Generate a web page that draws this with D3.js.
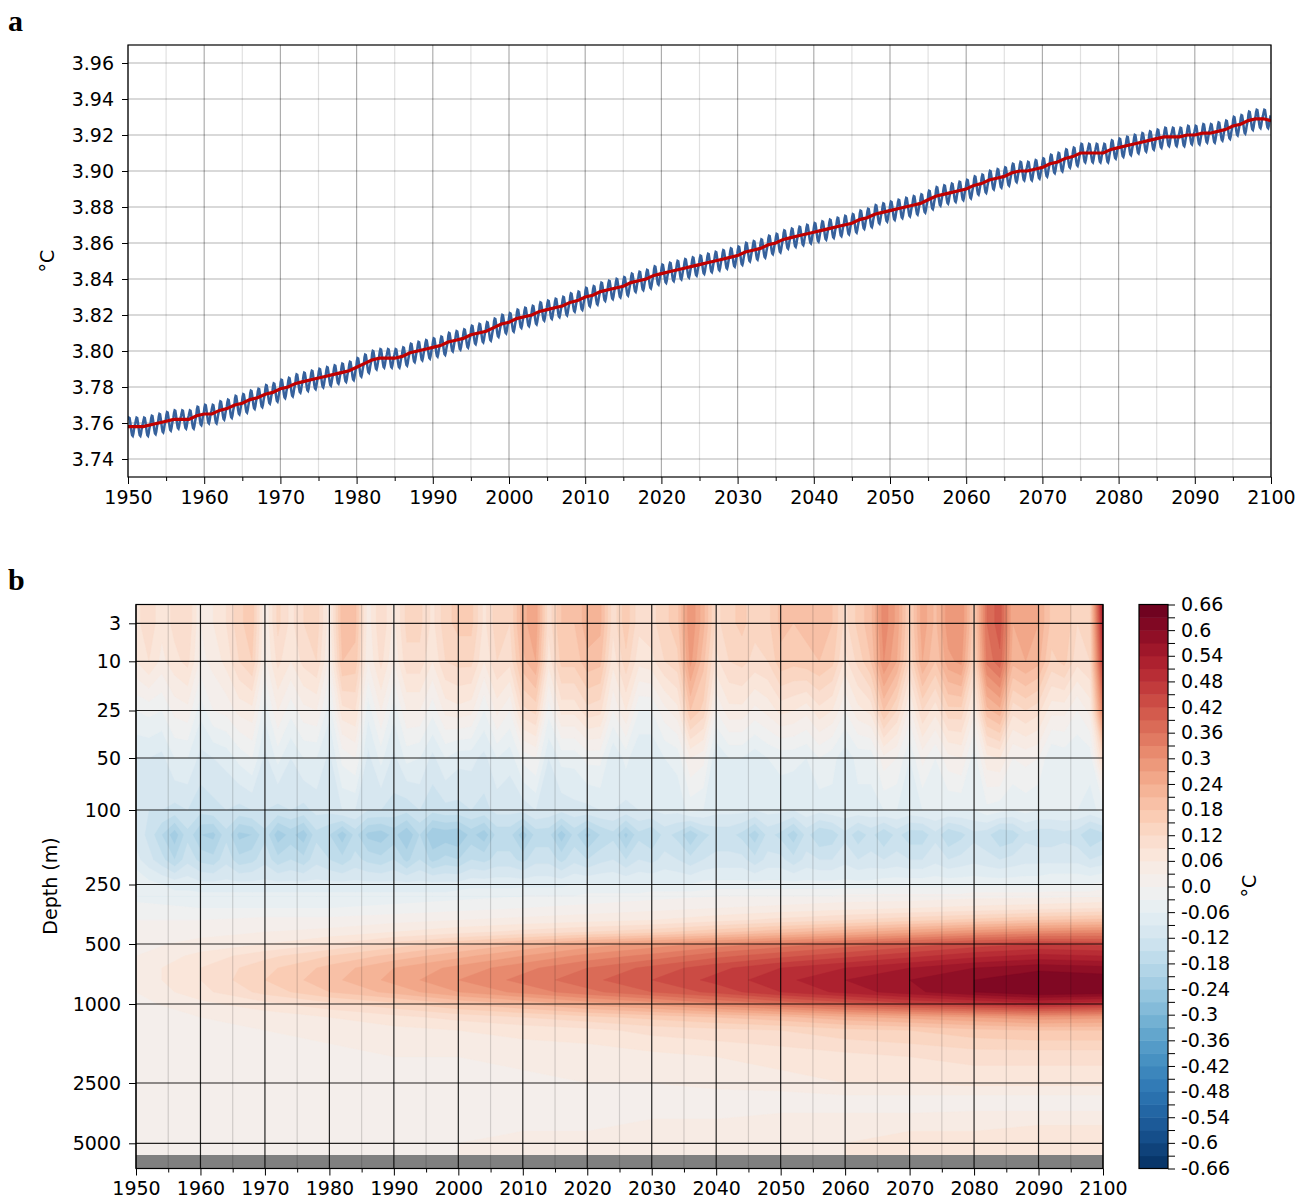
<!DOCTYPE html>
<html>
<head>
<meta charset="utf-8">
<script src="https://cdn.jsdelivr.net/npm/d3@7"></script>
<style>
  body { margin: 0; background: #fff; }
  svg text { font-family: "DejaVu Sans", sans-serif; }
</style>
</head>
<body>
<div id="chart"></div>
<script>
// ---------- panel a : mean temperature ----------
var years = d3.range(1950, 2101);
var annualMean = [
  3.758, 3.758, 3.758, 3.759, 3.760, 3.761, 3.762, 3.762, 3.762, 3.764,
  3.765, 3.765, 3.767, 3.768, 3.770, 3.771, 3.773, 3.774, 3.776, 3.777,
  3.779, 3.780, 3.782, 3.783, 3.784, 3.785, 3.786, 3.787, 3.788, 3.789,
  3.791, 3.793, 3.795, 3.796, 3.796, 3.796, 3.797, 3.799, 3.800, 3.801,
  3.802, 3.803, 3.805, 3.806, 3.807, 3.809, 3.810, 3.811, 3.813, 3.815,
  3.816, 3.818, 3.819, 3.820, 3.822, 3.823, 3.824, 3.825, 3.827, 3.828,
  3.830, 3.831, 3.833, 3.834, 3.835, 3.836, 3.838, 3.839, 3.840, 3.842,
  3.843, 3.844, 3.845, 3.846, 3.847, 3.848, 3.849, 3.850, 3.851, 3.852,
  3.853, 3.855, 3.856, 3.857, 3.859, 3.860, 3.862, 3.863, 3.864, 3.865,
  3.866, 3.867, 3.868, 3.869, 3.870, 3.871, 3.873, 3.874, 3.876, 3.877,
  3.878, 3.879, 3.880, 3.881, 3.882, 3.884, 3.886, 3.887, 3.888, 3.889,
  3.890, 3.892, 3.893, 3.895, 3.896, 3.897, 3.899, 3.900, 3.900, 3.901,
  3.902, 3.904, 3.905, 3.907, 3.908, 3.910, 3.910, 3.910, 3.910, 3.912,
  3.913, 3.914, 3.915, 3.916, 3.917, 3.918, 3.919, 3.919, 3.919, 3.920,
  3.920, 3.921, 3.921, 3.922, 3.923, 3.925, 3.926, 3.928, 3.929, 3.929,
  3.928
];
// monthly anomaly of the seasonal cycle (deg C)
var seasonalCycle = [0.0036, 0.0050, 0.0048, 0.0026, -0.0002, -0.0030,
                     -0.0048, -0.0052, -0.0038, -0.0014, 0.0005, 0.0019];
var yearTicks = d3.range(1950, 2101, 10);
var minorYears = d3.range(1955, 2100, 10);
var tempTicks = [3.74, 3.76, 3.78, 3.80, 3.82, 3.84, 3.86, 3.88, 3.90, 3.92, 3.94, 3.96];

// ---------- panel b : anomaly by depth (hundredths of deg C) ----------
var depthTicks = [3, 10, 25, 50, 100, 250, 500, 1000, 2500, 5000];
var upperYears = d3.range(1950, 2101, 2);
var upperDepths = [0, 3, 10, 25, 50, 100, 150, 200, 250, 300];
var upperGrid = [
  [8,11,7,10,12,3,6,9,14,17, 3,13,8,12,14,4,20,19,4,12, 5,13,13,8,14,16,16,8,14,12, 23,26,10,18,18,23,22,10,17,10,
   11,14,17,30,22,11,14,16,13,14, 19,18,19,20,18,11,16,20,32,26, 14,26,20,29,30,16,36,41,24,26, 24,17,18,12,14,55],
  [8,11,7,10,12,3,6,9,14,17, 3,13,8,12,14,4,20,19,4,12, 5,13,13,8,14,16,16,8,14,12, 23,26,10,18,18,23,22,10,17,10,
   11,14,17,30,22,11,14,16,13,14, 19,18,19,20,18,11,16,20,32,26, 14,26,20,29,30,16,36,41,24,26, 24,17,18,12,14,52],
  [6,9,5,8,10,2,4,7,12,15, 2,10,6,10,12,2,18,17,3,10, 3,11,11,6,12,13,13,6,12,10, 20,24,7,16,16,20,19,7,14,7,
   8,12,14,28,19,8,12,13,11,12, 17,16,17,18,16,8,13,18,30,24, 12,24,18,26,28,13,34,38,22,24, 22,14,16,10,12,46],
  [-3,-2,-3,1,2,-5,0,1,4,5, -5,3,-2,2,3,-5,8,9,-5,3, -5,3,3,-2,4,5,4,-3,4,0, 11,13,-2,7,7,11,10,0,6,-3,
   -3,2,5,18,14,0,5,5,2,4, 7,6,4,8,6,0,5,7,18,12, 2,12,7,14,14,4,20,23,10,12, 10,4,4,0,4,33],
  [-9,-9,-10,-6,-6,-10,-9,-8,-5,-3, -10,-5,-9,-6,-6,-10,-2,0,-10,-5, -10,-5,-6,-10,-6,-8,-8,-10,-6,-8,
   -2,0,-9,-5,-5,-2,-2,-9,-5,-9, -9,-6,-5,3,1,-9,-6,-6,-8,-6, -5,-5,-6,-3,-5,-8,-5,-5,2,0,
   -6,1,-3,2,3,-5,5,6,0,1, 0,-6,-5,-6,-5,12],
  [-11,-12,-12,-13,-12,-14,-13,-12,-13,-12, -12,-13,-12,-13,-11,-11,-9,-9,-12,-12, -13,-14,-12,-14,-13,-13,-12,-13,-11,-11,
   -11,-9,-10,-11,-10,-10,-9,-9,-10,-9, -9,-8,-8,-5,-6,-8,-8,-8,-9,-8, -8,-9,-7,-8,-7,-7,-7,-7,-6,-6,
   -7,-6,-6,-6,-6,-6,-4,-5,-6,-5, -6,-6,-6,-6,-7,-5],
  [-10,-13,-18,-23,-16,-21,-22,-16,-22,-21, -16,-23,-20,-23,-16,-18,-23,-17,-22,-23, -20,-24,-18,-24,-23,-24,-20,-23,-17,-17,
   -23,-17,-17,-23,-17,-22,-18,-16,-22,-16, -18,-14,-16,-21,-16,-14,-14,-16,-20,-14, -16,-20,-14,-18,-17,-13,-17,-14,-18,-14,
   -17,-17,-13,-18,-16,-13,-14,-18,-17,-13, -14,-14,-13,-14,-18,-16],
  [-8,-11,-14,-18,-13,-16,-17,-13,-17,-16, -13,-17,-15,-17,-13,-15,-17,-14,-16,-17, -15,-19,-15,-19,-17,-18,-15,-16,-14,-14,
   -16,-13,-13,-16,-13,-15,-13,-12,-15,-12, -13,-11,-12,-14,-12,-11,-11,-11,-14,-11, -11,-14,-11,-12,-12,-10,-12,-11,-12,-11,
   -12,-12,-10,-12,-11,-10,-11,-12,-11,-10, -10,-10,-10,-10,-12,-11],
  [-3,-5,-6,-7,-7,-8,-8,-8,-8,-8, -8,-8,-8,-8,-8,-8,-8,-8,-8,-8, -8,-8,-8,-8,-8,-8,-7,-7,-7,-7, -7,-7,-7,-7,-6,-6,-6,-6,-6,-6,
   -6,-6,-6,-6,-5,-5,-5,-5,-5,-5, -5,-5,-5,-5,-5,-5,-5,-5,-4,-4, -4,-4,-4,-4,-4,-4,-4,-4,-4,-4, -4,-3,-3,-3,-3,-2],
  [-4,-4,-5,-5,-5, -5,-5,-5,-5,-5, -5,-5,-5,-5,-5, -5,-5,-5,-5,-5, -5,-5,-5,-5,-5, -4,-4,-4,-4,-4, -3,-3,-3,-3,-3,
   -2,-2,-2,-2,-2, -1,-1,-1,-1,-1, 0,0,0,0,0, 0,0,0,0,0, 1,1,1,1,1, 1,1,1,1,1, 2,2,2,2,2, 2,2,2,2,2, 3]
];
var deepYears = d3.range(1950, 2101, 10);
var deepDepths = [300, 350, 400, 450, 500, 600, 700, 800, 900, 1000, 1250, 1500, 2000, 2500, 3000, 3500, 4000, 4500, 5000, 5500];
var deepGrid = [
  [-4,-5,-5,-5,-5,-4,-3,-2,-1,0,0,1,1,2,2,3],
  [-2,-3,-3,-3,-2,-1,0,1,2,3,4,5,6,7,8,9],
  [0,0,1,1,2,3,4,5,6,8,10,12,14,16,18,19],
  [1,2,3,4,6,8,10,12,14,17,20,23,26,29,31,32],
  [2,4,6,9,13,17,21,25,28,31,34,37,40,43,45,44],
  [3,7,11,15,19,23,27,31,34,38,41,44,47,50,52,51],
  [4,9,14,19,24,28,32,36,40,44,48,51,54,57,59,58],
  [4,9,15,20,25,30,34,38,42,46,50,54,57,60,63,62],
  [3,8,13,18,22,27,31,35,39,43,48,52,56,60,63,62],
  [2,5,8,11,14,18,21,25,28,32,36,40,44,47,50,48],
  [1,3,4,6,8,10,12,14,16,18,20,23,25,27,29,28],
  [1,2,3,4,5,6,7,8,10,11,12,14,15,17,18,18],
  [1,1,2,2,3,3,4,4,5,6,7,8,9,10,10,10],
  [1,1,1,1,2,2,2,3,3,4,5,6,6,7,7,7],
  [1,0,1,1,1,1,1,2,2,2,2,3,3,3,3,3],
  [1,1,1,1,1,1,1,1,2,2,2,2,2,2,2,2],
  [1,1,1,1,1,2,2,2,3,3,4,4,4,5,5,5],
  [1,1,1,1,2,2,3,3,4,4,5,5,6,6,7,7],
  [1,1,1,2,2,3,3,4,4,5,5,6,6,7,7,7],
  [1,1,1,2,2,3,3,4,4,5,5,6,6,7,7,7]
];
var levels = d3.range(-66, 66, 3);        // contour levels, hundredths of deg C
var cbarTicks = d3.range(-66, 67, 3);

var W = 1308, H = 1201, FS = 19;
var svg = d3.select("#chart").append("svg").attr("width", W).attr("height", H);

function bandColor(t) {
  // RdBu_r, colour of the band [t, t+3]
  return d3.interpolateRdBu(1 - (t + 1.5 + 66) / 132);
}

function vlines(g, data, x, y0, y1, color, op, w) {
  g.selectAll(null).data(data).enter().append("line")
    .attr("x1", x).attr("x2", x).attr("y1", y0).attr("y2", y1)
    .attr("stroke", color).attr("stroke-opacity", op).attr("stroke-width", w);
}
function hlines(g, data, y, x0, x1, color, op, w) {
  g.selectAll(null).data(data).enter().append("line")
    .attr("y1", y).attr("y2", y).attr("x1", x0).attr("x2", x1)
    .attr("stroke", color).attr("stroke-opacity", op).attr("stroke-width", w);
}
function styleAxis(g) {
  g.attr("font-size", FS).attr("font-family", "DejaVu Sans, sans-serif");
  g.select(".domain").remove();
  g.selectAll("text").attr("fill", "#000");
  g.selectAll("line").attr("stroke", "#000");
}

// ================= panel a =================
var xA = d3.scaleLinear().domain([1950, 2100]).range([128, 1271]);
var yA = d3.scaleLinear().domain([3.73, 3.97]).range([477, 45]);

svg.append("clipPath").attr("id", "clipA").append("rect")
  .attr("x", 128).attr("y", 45).attr("width", 1143).attr("height", 432);

var ga = svg.append("g");
vlines(ga, minorYears, function (d) { return xA(d); }, 45, 477, "#000", 0.12, 1.2);
vlines(ga, yearTicks, function (d) { return xA(d); }, 45, 477, "#000", 0.32, 1.2);
hlines(ga, tempTicks, function (d) { return yA(d); }, 128, 1271, "#000", 0.3, 1.2);

var monthly = [];
years.slice(0, -1).forEach(function (yr, i) {
  seasonalCycle.forEach(function (s, m) {
    monthly.push([yr + (m + 0.5) / 12, annualMean[i] + s]);
  });
});
var lineA = d3.line().x(function (d) { return xA(d[0]); }).y(function (d) { return yA(d[1]); });

var plotA = ga.append("g").attr("clip-path", "url(#clipA)");
plotA.append("path").datum(monthly).attr("d", lineA)
  .attr("fill", "none").attr("stroke", "#36619c").attr("stroke-width", 2.5);
plotA.append("path").datum(years.map(function (yr, i) { return [yr, annualMean[i]]; }))
  .attr("d", lineA).attr("fill", "none").attr("stroke", "#c00000").attr("stroke-width", 3.2);

ga.append("rect").attr("x", 128).attr("y", 45).attr("width", 1143).attr("height", 432)
  .attr("fill", "none").attr("stroke", "#000").attr("stroke-width", 1.2);

ga.append("g").attr("transform", "translate(0,477)")
  .call(d3.axisBottom(xA).tickValues(yearTicks).tickFormat(d3.format("d")).tickSize(7).tickPadding(7))
  .call(styleAxis);
ga.append("g").attr("transform", "translate(0,477)")
  .call(d3.axisBottom(xA).tickValues(minorYears).tickFormat("").tickSize(4))
  .call(styleAxis);
ga.append("g").attr("transform", "translate(128,0)")
  .call(d3.axisLeft(yA).tickValues(tempTicks).tickFormat(d3.format(".2f")).tickSize(6).tickPadding(8))
  .call(styleAxis);

ga.append("text").attr("transform", "translate(54,261) rotate(-90)")
  .attr("text-anchor", "middle").attr("font-size", FS).text("°C");
svg.append("text").attr("x", 8).attr("y", 31)
  .style("font-family", "'Liberation Serif', 'Times New Roman', serif")
  .attr("font-weight", "bold").attr("font-size", 30).text("a");

// ================= panel b =================
var xB = d3.scaleLinear().domain([1950, 2100]).range([136, 1103]);
var yB = d3.scaleLinear()
  .domain([0, 3, 10, 25, 50, 100, 250, 500, 1000, 2500, 5000, 5500, 6050])
  .range([604.5, 623.3, 661.3, 710.5, 758, 810, 884.5, 944, 1004, 1083, 1143.3, 1155, 1168.5]);
var bTop = 604.5, bBottom = 1168.5;

svg.append("clipPath").attr("id", "clipB").append("rect")
  .attr("x", 136).attr("y", bTop).attr("width", 967).attr("height", bBottom - bTop);

var gb = svg.append("g");
var field = gb.append("g").attr("clip-path", "url(#clipB)");

function drawField(gridYears, depths, grid) {
  var nx = gridYears.length, ny = depths.length;
  var values = [];
  grid.forEach(function (row) { row.forEach(function (v) { values.push(v); }); });
  var gx = d3.scaleLinear().domain([0, nx - 1])
    .range([xB(gridYears[0]), xB(gridYears[nx - 1])]).clamp(true);
  var gy = d3.scaleLinear().domain(d3.range(ny)).range(depths.map(yB)).clamp(true);
  var path = d3.geoPath(d3.geoTransform({
    point: function (x, y) { this.stream.point(gx(x - 0.5), gy(y - 0.5)); }
  }));
  var contours = d3.contours().size([nx, ny]).thresholds(levels)(values);
  field.append("g").selectAll("path").data(contours).enter().append("path")
    .attr("d", path)
    .attr("fill", function (d) { return bandColor(d.value); })
    .attr("stroke", function (d) { return bandColor(d.value); })
    .attr("stroke-width", 0.4);
}
drawField(deepYears, deepDepths, deepGrid);
drawField(upperYears, upperDepths, upperGrid);

// sea floor
field.append("rect").attr("x", 136).attr("width", 967)
  .attr("y", yB(5500)).attr("height", bBottom - yB(5500)).attr("fill", "#808080");

vlines(gb, minorYears, function (d) { return xB(d); }, bTop, bBottom, "#000", 0.15, 1.2);
vlines(gb, yearTicks, function (d) { return xB(d); }, bTop, bBottom, "#000", 0.85, 1.2);
hlines(gb, depthTicks, function (d) { return yB(d); }, 136, 1103, "#000", 0.85, 1.2);

gb.append("rect").attr("x", 136).attr("y", bTop).attr("width", 967).attr("height", bBottom - bTop)
  .attr("fill", "none").attr("stroke", "#000").attr("stroke-width", 1.2);

gb.append("g").attr("transform", "translate(0," + bBottom + ")")
  .call(d3.axisBottom(xB).tickValues(yearTicks).tickFormat(d3.format("d")).tickSize(7).tickPadding(6))
  .call(styleAxis);
gb.append("g").attr("transform", "translate(0," + bBottom + ")")
  .call(d3.axisBottom(xB).tickValues(minorYears).tickFormat("").tickSize(4))
  .call(styleAxis);
gb.append("g").attr("transform", "translate(136,0)")
  .call(d3.axisLeft(yB).tickValues(depthTicks).tickFormat(d3.format("d")).tickSize(7).tickPadding(8))
  .call(styleAxis);

gb.append("text").attr("transform", "translate(57,886) rotate(-90)")
  .attr("text-anchor", "middle").attr("font-size", FS).text("Depth (m)");
svg.append("text").attr("x", 8).attr("y", 590)
  .style("font-family", "'Liberation Serif', 'Times New Roman', serif")
  .attr("font-weight", "bold").attr("font-size", 30).text("b");

// colour bar
var cbX = 1139, cbW = 29;
var cbY = d3.scaleLinear().domain([-66, 66]).range([bBottom, bTop]);
var gc = svg.append("g");
gc.selectAll("rect.band").data(levels).enter().append("rect")
  .attr("x", cbX).attr("width", cbW)
  .attr("y", function (d) { return cbY(d + 3); })
  .attr("height", function (d) { return cbY(d) - cbY(d + 3) + 0.5; })
  .attr("fill", bandColor);
gc.append("rect").attr("x", cbX).attr("y", bTop).attr("width", cbW).attr("height", bBottom - bTop)
  .attr("fill", "none").attr("stroke", "#000").attr("stroke-width", 1.2);
gc.append("g").attr("transform", "translate(" + (cbX + cbW) + ",0)")
  .call(d3.axisRight(cbY).tickValues(cbarTicks).tickSize(7).tickPadding(6)
    .tickFormat(function (t) {
      if ((t + 66) % 6 !== 0) return "";
      return t === 0 ? "0.0" : String(t / 100);
    }))
  .call(styleAxis);
gc.append("text").attr("transform", "translate(1256,886) rotate(-90)")
  .attr("text-anchor", "middle").attr("font-size", FS).text("°C");
</script>
</body>
</html>
